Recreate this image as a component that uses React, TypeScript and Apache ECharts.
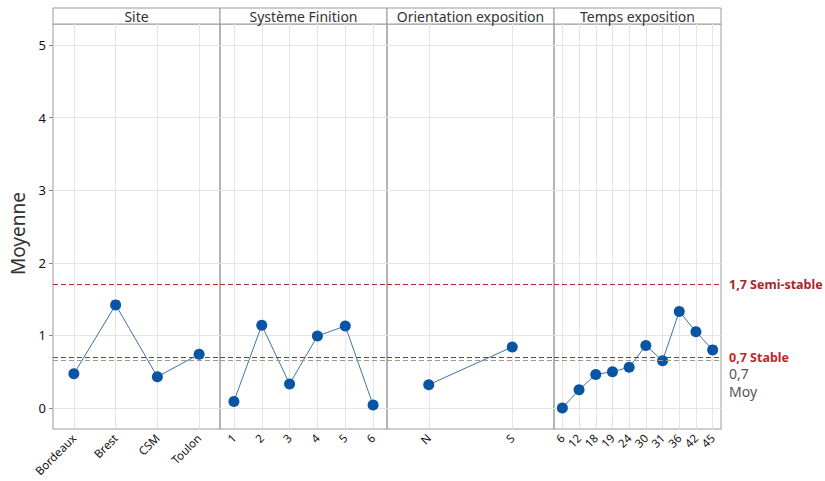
import React, { useEffect, useRef } from "react";
import * as echarts from "echarts";

const siteCats = ["Bordeaux", "Brest", "CSM", "Toulon"];
const siteVals = [0.47, 1.42, 0.43, 0.74];
const finitionCats = ["1", "2", "3", "4", "5", "6"];
const finitionVals = [0.09, 1.14, 0.33, 0.99, 1.13, 0.04];
const orientationCats = ["N", "S"];
const orientationVals = [0.32, 0.84];
const tempsCats = ["6", "12", "18", "19", "24", "30", "31", "36", "42", "45"];
const tempsVals = [0.0, 0.25, 0.46, 0.5, 0.56, 0.86, 0.65, 1.33, 1.05, 0.8];
const panelTitles = ["Site", "Système Finition", "Orientation exposition", "Temps exposition"];
const yTicks = [0, 1, 2, 3, 4, 5];
const semiStable = 1.7;
const stable = 0.7;
const mean = 0.655;
const meanLabel = "0,7\nMoy";
const yMin = -0.29;
const yMax = 5.29;

const FONT = "'Noto Sans', 'Open Sans', sans-serif";
const LEFT = 53;
const PW = 167;
const TOP = 24;
const H = 405;
const STRIP = 16;

export default function App() {
  const ref = useRef<HTMLDivElement>(null);
  useEffect(() => {
    if (!ref.current) return;
    const chart = echarts.init(ref.current, null, { renderer: "svg" });
    const panels = [
      { title: panelTitles[0], cats: siteCats, vals: siteVals },
      { title: panelTitles[1], cats: finitionCats, vals: finitionVals },
      { title: panelTitles[2], cats: orientationCats, vals: orientationVals },
      { title: panelTitles[3], cats: tempsCats, vals: tempsVals },
    ];
    const grids: any[] = [];
    const xAxes: any[] = [];
    const yAxes: any[] = [];
    const series: any[] = [];
    const graphics: any[] = [];
    panels.forEach((p, i) => {
      const last = i === panels.length - 1;
      grids.push({
        left: LEFT + i * PW,
        top: TOP,
        width: PW,
        height: H,
        show: true,
        borderColor: "#9a9a9a",
        borderWidth: 1,
        backgroundColor: "transparent",
        containLabel: false,
      });
      xAxes.push({
        type: "category",
        gridIndex: i,
        data: p.cats,
        boundaryGap: true,
        axisLine: { show: false },
        axisTick: { show: false, alignWithLabel: true },
        splitLine: { show: true, alignWithLabel: true, lineStyle: { color: "#e4e4e4", width: 1 } },
        axisLabel: {
          rotate: 45,
          interval: 0,
          fontSize: 11.5,
          color: "#111",
          fontFamily: FONT,
          margin: 7,
        },
      });
      yAxes.push({
        type: "value",
        gridIndex: i,
        min: yMin,
        max: yMax,
        splitNumber: 5,
        axisLine: { show: false },
        axisTick: { show: i === 0, length: 4, lineStyle: { color: "#888" } },
        axisLabel: {
          show: i === 0,
          showMinLabel: false,
          showMaxLabel: false,
          fontSize: 13,
          color: "#111",
          fontFamily: FONT,
          margin: 7,
          formatter: (v: number) => (yTicks.includes(Math.round(v * 100) / 100) ? String(v) : ""),
        },
        splitLine: { show: true, showMinLine: false, showMaxLine: false, lineStyle: { color: "#e4e4e4", width: 1 } },
        name: i === 0 ? "Moyenne" : "",
        nameLocation: "middle",
        nameGap: 26,
        nameTextStyle: { fontSize: 19, color: "#333", fontFamily: FONT, padding: [0, 0, 0, -14] },
      });
      series.push({
        type: "line",
        xAxisIndex: i,
        yAxisIndex: i,
        data: p.vals,
        symbol: "circle",
        symbolSize: 11,
        itemStyle: { color: "#0a55a3" },
        lineStyle: { color: "#3f73a8", width: 1 },
        markLine: {
          silent: true,
          symbol: "none",
          precision: 3,
          data: [
            {
              yAxis: mean,
              lineStyle: { color: "#999999", type: [5, 3], width: 1 },
              label: { show: false },
            },
            {
              yAxis: semiStable,
              lineStyle: { color: "#b3282d", type: [5, 3], width: 1 },
              label: {
                show: last,
                position: "end",
                formatter: "1,7 Semi-stable",
                color: "#a8262b",
                fontWeight: "bold",
                fontSize: 12.5,
                lineHeight: 13,
                fontFamily: FONT,
                distance: 8,
              },
            },
            {
              yAxis: stable,
              lineStyle: { color: "#b3282d", type: [5, 3], width: 1 },
              label: {
                show: last,
                position: "end",
                formatter: "0,7 Stable",
                color: "#c0262b",
                fontWeight: "bold",
                fontSize: 12.5,
                lineHeight: 13,
                fontFamily: FONT,
                distance: 8,
              },
            },
          ],
        },
      });
      graphics.push({
        type: "rect",
        shape: { x: LEFT + i * PW, y: TOP - STRIP, width: PW, height: STRIP },
        style: { fill: "#fff", stroke: "#9a9a9a", lineWidth: 1 },
      });
      graphics.push({
        type: "text",
        x: LEFT + i * PW + PW / 2,
        y: TOP - STRIP / 2,
        style: {
          text: p.title,
          fill: "#333",
          font: `14px ${FONT}`,
          textAlign: "center",
          textVerticalAlign: "middle",
        },
      });
    });
    chart.setOption({
      animation: false,
      backgroundColor: "#fff",
      grid: grids,
      xAxis: xAxes,
      yAxis: yAxes,
      series,
      graphic: graphics,
    });
    const lastIdx = panels.length - 1;
    const yMean = chart.convertToPixel({ yAxisIndex: lastIdx } as any, mean) as unknown as number;
    const xEnd = LEFT + panels.length * PW;
    chart.setOption({
      graphic: [
        ...graphics,
        {
          type: "text",
          x: xEnd + 8,
          y: yMean + 22,
          style: {
            text: meanLabel,
            fill: "#555",
            fontSize: 14,
            fontFamily: FONT,
            lineHeight: 18,
            textAlign: "left",
            textVerticalAlign: "middle",
          },
        },
      ],
    });
    return () => chart.dispose();
  }, []);
  return (
    <div
      ref={ref}
      style={{ position: "absolute", left: 0, top: 0, width: 825, height: 481 }}
    />
  );
}
